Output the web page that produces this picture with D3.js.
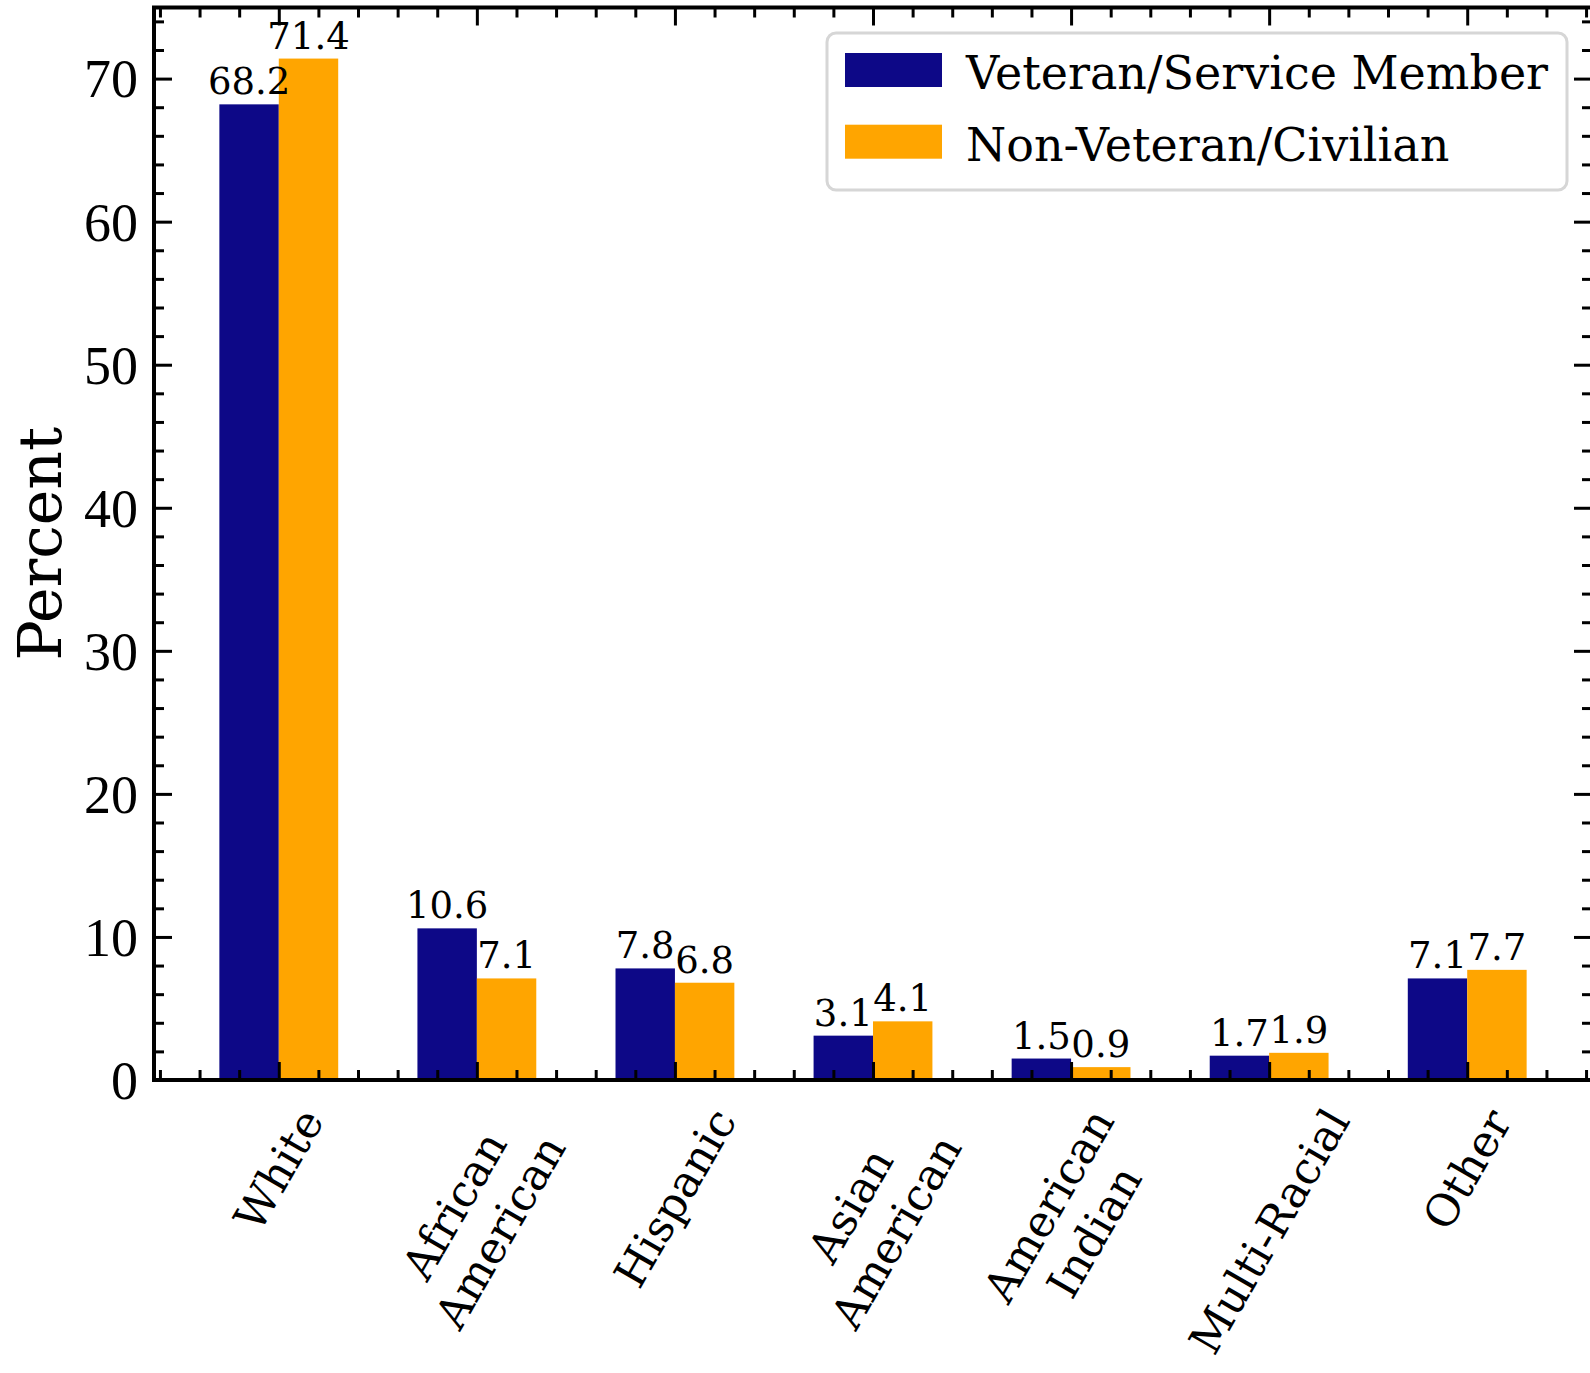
<!DOCTYPE html>
<html>
<head>
<meta charset="utf-8">
<script src="https://cdn.jsdelivr.net/npm/d3@7"></script>
<style>
  body { margin: 0; background: #fff; }
  svg { display: block; }
  .domain { display: none; }
</style>
</head>
<body>
<script>
// chart data
var categories = ["White", "African\nAmerican", "Hispanic", "Asian\nAmerican", "American\nIndian", "Multi-Racial", "Other"];
var veteran = [68.2, 10.6, 7.8, 3.1, 1.5, 1.7, 7.1];
var civilian = [71.4, 7.1, 6.8, 4.1, 0.9, 1.9, 7.7];
var seriesNames = ["Veteran/Service Member", "Non-Veteran/Civilian"];
var seriesColors = ["#0d0887", "#ffa500"];
var yTicks = [0, 10, 20, 30, 40, 50, 60, 70];
var yLabel = "Percent";

window.onload = drawChart;

function drawChart(){
    var width = 1590, height = 1373;
    //plot frame (window.top is reserved, so keep these local)
    var pLeft = 154, pRight = 1592, pTop = 7.5, pBottom = 1080;
    var serif = "'DejaVu Serif', serif";

    var svg = d3.select("body").append("svg")
        .attr("width", width)
        .attr("height", height);

    //scales, x is the category index with bars at +-0.3
    var x = d3.scaleLinear().domain([-0.63, 6.63]).range([pLeft, pRight]);
    var y = d3.scaleLinear().domain([0, 74.97]).range([pBottom, pTop]);

    var barW = 0.3;
    var series = [veteran, civilian];

    //bars first
    series.forEach(function(vals, s){
        svg.append("g").selectAll("rect")
            .data(vals)
            .enter()
            .append("rect")
            .attr("x", function(d, i){ return x(i - barW + s * barW); })
            .attr("y", function(d){ return y(d); })
            .attr("width", x(barW) - x(0))
            .attr("height", function(d){ return y(0) - y(d); })
            .attr("fill", seriesColors[s]);
    });

    //value labels above bars, drawn on top of all bars
    series.forEach(function(vals, s){
        svg.append("g").selectAll("text")
            .data(vals)
            .enter()
            .append("text")
            .attr("x", function(d, i){ return x(i - barW / 2 + s * barW); })
            .attr("y", function(d){ return y(d) - 10; })
            .attr("text-anchor", "middle")
            .attr("font-family", serif)
            .attr("font-size", 37)
            .text(function(d){ return d.toFixed(1); });
    });

    //ticks, all pointing inward
    function ticks(axisFn, scale, vals, len, tx, ty){
        var g = svg.append("g")
            .attr("transform", "translate(" + tx + "," + ty + ")")
            .call(axisFn(scale).tickValues(vals).tickSize(-len).tickFormat(""));
        g.selectAll("line").attr("stroke", "#000").attr("stroke-width", 3);
        return g;
    }
    var xMajor = d3.range(0, 7);
    var xMinor = d3.range(-3, 34).map(function(k){ return k * 0.2; })
        .filter(function(v){ return Math.abs(v - Math.round(v)) > 1e-6; });
    var yMinor = d3.range(0, 76, 2).filter(function(v){ return v % 10 !== 0; });

    ticks(d3.axisBottom, x, xMajor, 18, 0, pBottom);
    ticks(d3.axisBottom, x, xMinor, 10, 0, pBottom);
    ticks(d3.axisTop, x, xMajor, 18, 0, pTop);
    ticks(d3.axisTop, x, xMinor, 10, 0, pTop);
    ticks(d3.axisLeft, y, yTicks, 18, pLeft, 0);
    ticks(d3.axisLeft, y, yMinor, 10, pLeft, 0);
    ticks(d3.axisRight, y, yTicks, 18, pRight, 0);
    ticks(d3.axisRight, y, yMinor, 10, pRight, 0);

    //y tick labels
    svg.append("g").selectAll("text")
        .data(yTicks)
        .enter()
        .append("text")
        .attr("x", pLeft - 16)
        .attr("y", function(d){ return y(d); })
        .attr("dy", "0.35em")
        .attr("text-anchor", "end")
        .attr("font-family", "'Liberation Serif', serif")
        .attr("font-size", 54)
        .text(function(d){ return d; });

    //frame
    svg.append("rect")
        .attr("x", pLeft).attr("y", pTop)
        .attr("width", pRight - pLeft).attr("height", pBottom - pTop)
        .attr("fill", "none").attr("stroke", "#000").attr("stroke-width", 4);

    //rotated category labels, bbox centered under tick
    categories.forEach(function(c, i){
        var outer = svg.append("g").attr("transform", "translate(" + x(i) + "," + (pBottom + 20) + ")");
        var inner = outer.append("g");
        var t = inner.append("text")
            .attr("transform", "rotate(-60)")
            .attr("text-anchor", "middle")
            .attr("font-family", serif)
            .attr("font-size", 44);
        c.split("\n").forEach(function(line, k){
            t.append("tspan").attr("x", 0).attr("dy", k === 0 ? 0 : "1.2em").text(line);
        });
        var bb = inner.node().getBBox();
        inner.attr("transform", "translate(" + (-bb.x - bb.width / 2) + "," + (-bb.y) + ")");
    });

    //y label
    svg.append("text")
        .attr("transform", "translate(61," + ((pTop + pBottom) / 2) + ") rotate(-90)")
        .attr("text-anchor", "middle")
        .attr("font-family", serif)
        .attr("font-size", 60)
        .text(yLabel);

    //legend
    var legend = svg.append("g");
    legend.append("rect")
        .attr("x", 827).attr("y", 33)
        .attr("width", 740).attr("height", 157)
        .attr("rx", 9)
        .attr("fill", "#fff").attr("fill-opacity", 0.8)
        .attr("stroke", "#d6d6d6").attr("stroke-width", 3);
    seriesNames.forEach(function(name, s){
        legend.append("rect")
            .attr("x", 845).attr("y", 53 + s * 71.7)
            .attr("width", 97).attr("height", 34)
            .attr("fill", seriesColors[s]);
        legend.append("text")
            .attr("x", 966).attr("y", 89 + s * 71.7)
            .attr("font-family", serif)
            .attr("font-size", 46)
            .text(name);
    });
}
</script>
</body>
</html>
